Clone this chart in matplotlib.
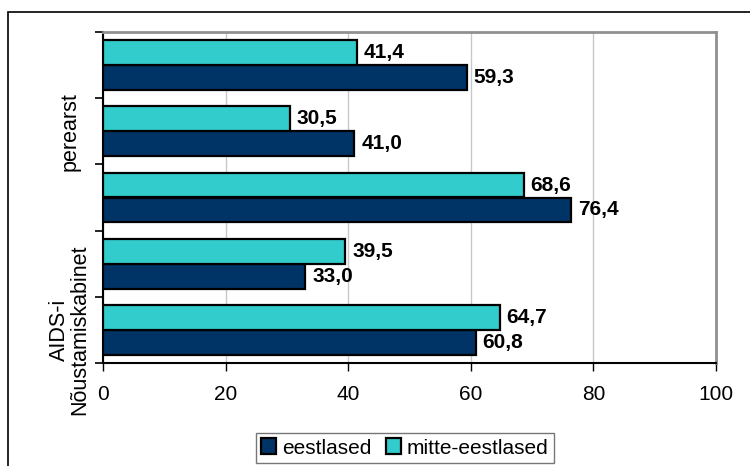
import numpy as np
import matplotlib.pyplot as plt
from matplotlib.patches import Rectangle

plt.rcParams['font.family'] = ['Liberation Sans', 'DejaVu Sans']

# categories top to bottom (only two carry a label in the original)
categories = ["", "perearst", "", "", "AIDS-i\nNõustamiskabinet"]
eestlased = [59.3, 41.0, 76.4, 33.0, 60.8]
mitte_eestlased = [41.4, 30.5, 68.6, 39.5, 64.7]
xticks = [0, 20, 40, 60, 80, 100]

navy = "#003366"
cyan = "#33CCCC"

fig = plt.figure(figsize=(7.5, 4.66), dpi=100)
ax = fig.add_axes([103/750, 1 - 363/466, (716-103)/750, (363-32)/466])

# outer chart frame (cropped at right and bottom)
fig.patches.append(Rectangle((8/750, -0.1), 1.0, (466-12)/466 + 0.1,
                             transform=fig.transFigure, fill=False,
                             edgecolor="black", linewidth=1.2))

y = np.arange(len(categories))
h = 0.377
b1 = ax.barh(y + h/2, eestlased, height=h, color=navy, edgecolor="black",
             linewidth=1.6, label="eestlased", zorder=3)
b2 = ax.barh(y - h/2, mitte_eestlased, height=h, color=cyan, edgecolor="black",
             linewidth=1.6, label="mitte-eestlased", zorder=3)

for bars, vals in ((b1, eestlased), (b2, mitte_eestlased)):
    for bar, v in zip(bars, vals):
        ax.annotate(f"{v:.1f}".replace(".", ","),
                    (bar.get_width(), bar.get_y() + bar.get_height()/2),
                    xytext=(5, 0), textcoords="offset points",
                    ha="left", va="center", fontsize=15, fontweight="bold")

ax.set_xlim(0, 100)
ax.set_ylim(len(categories) - 0.5, -0.5)
ax.set_xticks(xticks)
ax.set_xticklabels([str(t) for t in xticks], fontsize=15)
ax.tick_params(axis="x", length=6, width=1, pad=10, direction="out")

ax.set_yticks(np.arange(-0.5, len(categories)), minor=False)
ax.set_yticklabels([])
ax.tick_params(axis="y", which="major", length=6, width=1.2)
ax.set_yticks(y, minor=True)
ax.set_yticklabels(categories, minor=True, rotation=90, va="center",
                   ha="center", fontsize=15.5, linespacing=1.0)
ax.tick_params(axis="y", which="minor", length=0, pad=24)

ax.grid(axis="x", color="#c8c8c8", linewidth=1, zorder=0)
ax.set_axisbelow(True)
ax.spines["left"].set_color("black")
ax.spines["left"].set_linewidth(1.5)
ax.spines["bottom"].set_color("black")
ax.spines["bottom"].set_linewidth(1.5)
for s in ("top", "right"):
    ax.spines[s].set_color("#909090")
    ax.spines[s].set_linewidth(2)

leg = fig.legend(handles=[b1, b2], loc="center", bbox_to_anchor=(405/750, 18/466),
                 ncol=2, fontsize=15, frameon=True, fancybox=False,
                 edgecolor="#555555", handlelength=0.7, handleheight=0.8,
                 handletextpad=0.3, columnspacing=0.7, borderpad=0.25,
                 borderaxespad=0)
leg.get_frame().set_linewidth(1)

fig.savefig("out.png", dpi=100)
